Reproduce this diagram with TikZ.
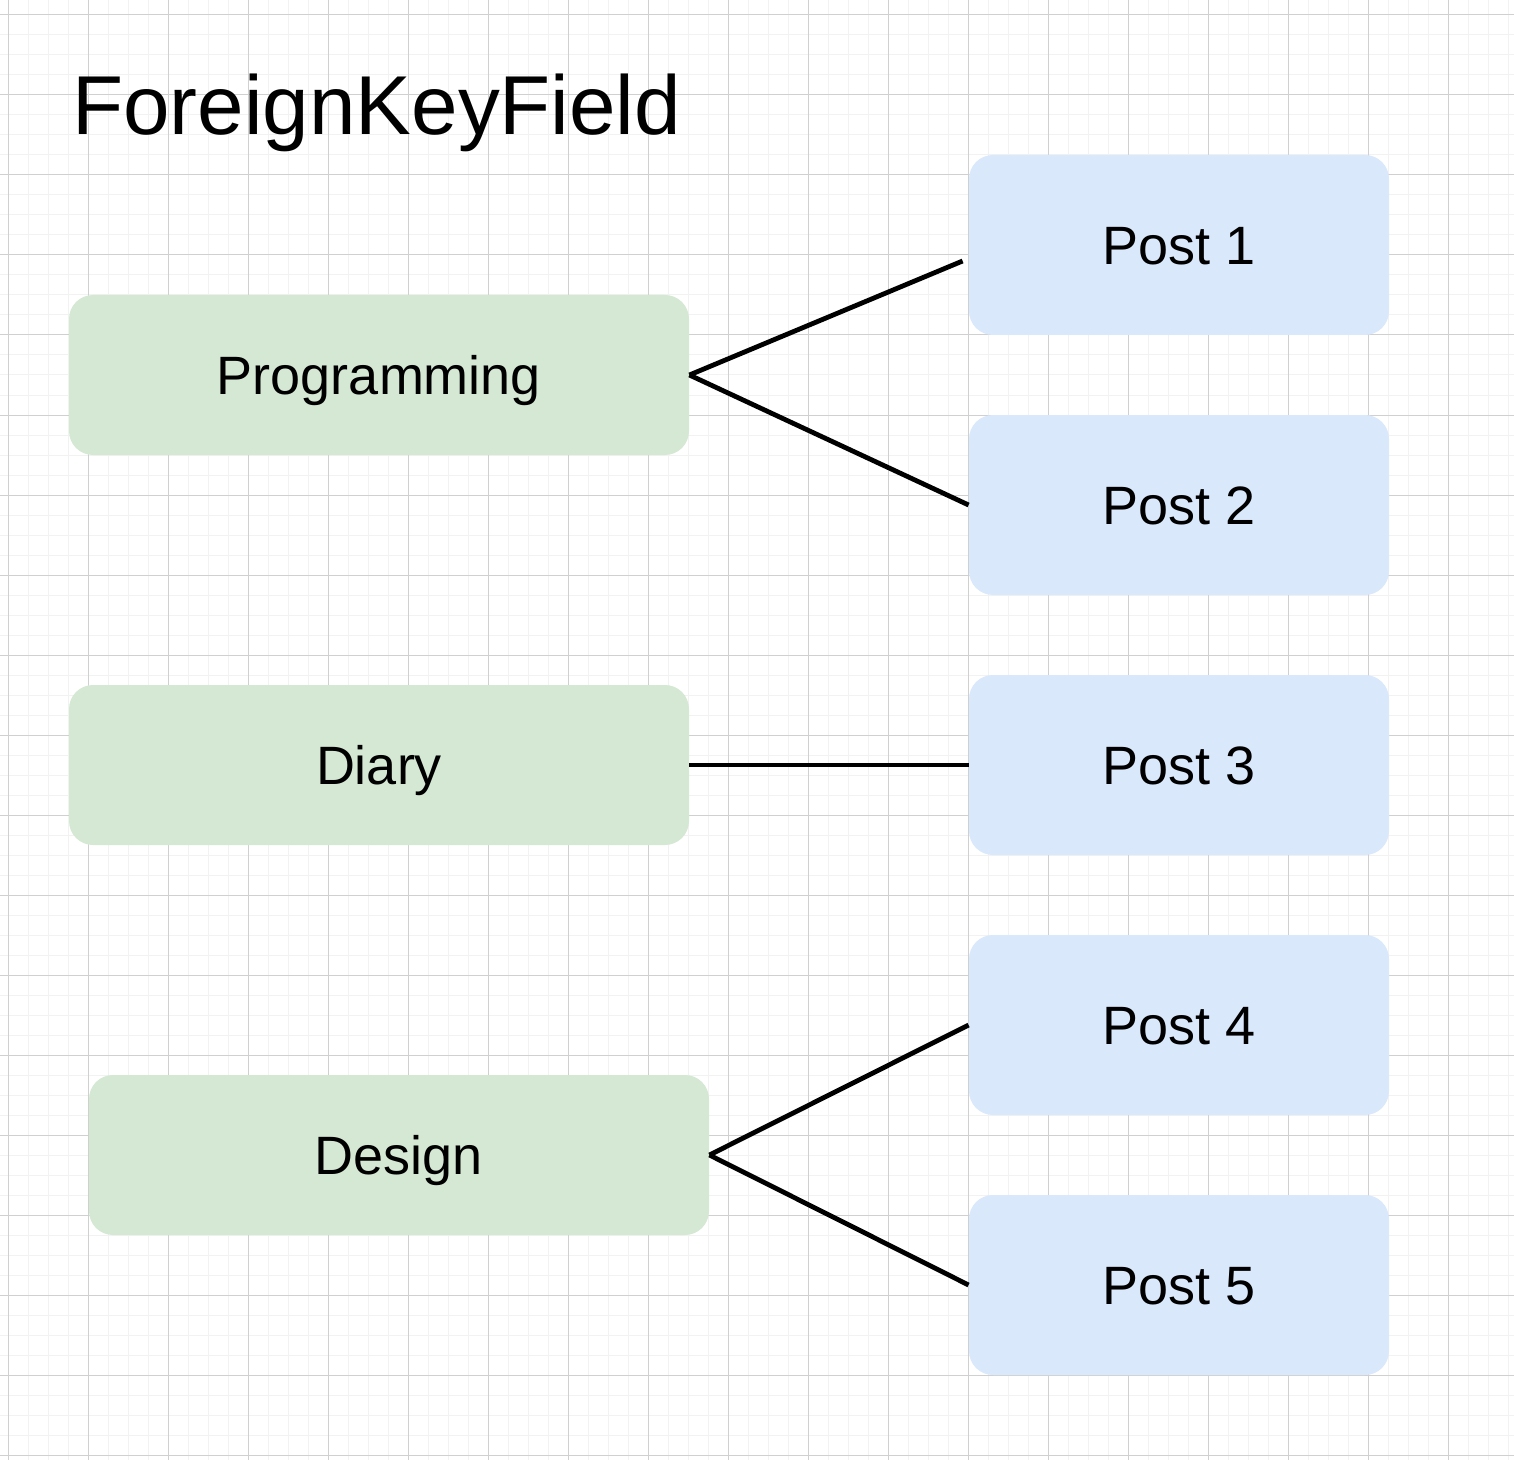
\documentclass[tikz,border=0pt]{standalone}
\usepackage{fontspec}
\setmainfont{Liberation Sans}
\usepackage{xcolor}
\definecolor{catfill}{HTML}{D5E8D4}
\definecolor{postfill}{HTML}{DAE8FC}
\definecolor{gridminor}{HTML}{F2F2F2}
\definecolor{gridmajor}{HTML}{D0D0D0}

\tikzset{
  catbox/.style={rectangle, rounded corners=12pt, fill=catfill, draw=none,
                 minimum width=310pt, minimum height=80pt, inner sep=0pt,
                 text height=19.3pt, text depth=0pt,
                 font=\fontsize{27}{32}\selectfont},
  postbox/.style={rectangle, rounded corners=12pt, fill=postfill, draw=none,
                  minimum width=210pt, minimum height=90pt, inner sep=0pt,
                  text height=19.3pt, text depth=0pt,
                  font=\fontsize{27}{32}\selectfont},
  fkline/.style={line width=2.4pt, black},
}

\begin{document}
\begin{tikzpicture}[x=0.5pt, y=-0.5pt]
                    \useasboundingbox (0,0) rectangle (1514,1460);
                    \fill[white] (0,0) rectangle (1514,1460);
                    % grid
                    \foreach \x in {8,28,...,1508}
                        \draw[gridminor, line width=0.5pt] (\x,0) -- (\x,1460);
                    \foreach \y in {15,35,...,1455}
                        \draw[gridminor, line width=0.5pt] (0,\y) -- (1514,\y);
                    \foreach \x in {8,88,...,1448}
                        \draw[gridmajor, line width=0.5pt] (\x,0) -- (\x,1460);
                    \foreach \y in {15,95,...,1455}
                        \draw[gridmajor, line width=0.5pt] (0,\y) -- (1514,\y);

                    \node[anchor=base west, inner sep=0pt,
                          font=\fontsize{41.8}{50}\selectfont] (title) at (72,135) {ForeignKeyField};

                    \node[catbox] (programming) at (379,375) {Programming};
                    \node[catbox] (diary) at (379,765) {Diary};
                    \node[catbox] (design) at (399,1155) {Design};

                    \node[postbox] (post1) at (1179,245) {Post 1};
                    \node[postbox] (post2) at (1179,505) {Post 2};
                    \node[postbox] (post3) at (1179,765) {Post 3};
                    \node[postbox] (post4) at (1179,1025) {Post 4};
                    \node[postbox] (post5) at (1179,1285) {Post 5};

                    \coordinate (post1end) at ([xshift=-3pt, yshift=-8pt]post1.west);

                    \draw[fkline] (programming.east) -- (post1end);
                    \draw[fkline] (programming.east) -- (post2.west);
                    \draw[fkline] (diary.east) -- (post3.west);
                    \draw[fkline] (design.east) -- (post4.west);
                    \draw[fkline] (design.east) -- (post5.west);
                \end{tikzpicture}
\end{document}
